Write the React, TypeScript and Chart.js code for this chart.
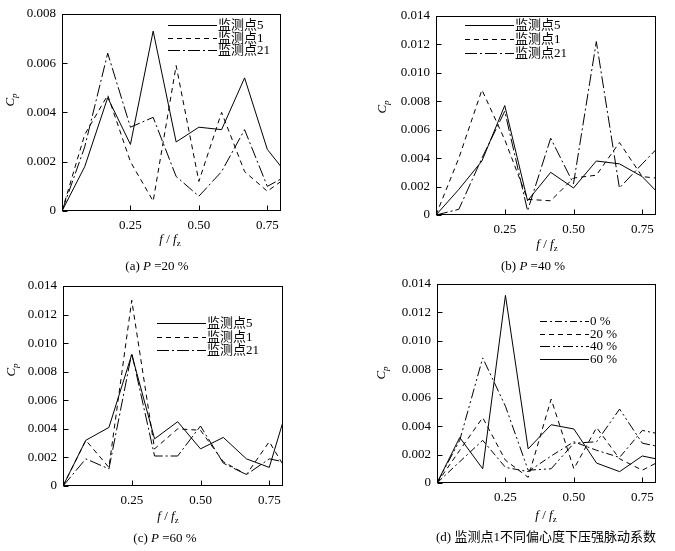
import React, { useEffect, useRef } from "react";
import Chart from "chart.js/auto";

// frequency ratio f / fz of the spectrum points
const fRatio = [0, 0.083, 0.167, 0.25, 0.333, 0.417, 0.5, 0.583, 0.667, 0.75, 0.8];
const xTickValues = [0.25, 0.5, 0.75];
const yTicksA = [0, 0.002, 0.004, 0.006, 0.008];
const yTicksOther = [0, 0.002, 0.004, 0.006, 0.008, 0.01, 0.012, 0.014];

const pointLabels = ["监测点5", "监测点1", "监测点21"];
const eccLabels = ["0 %", "20 %", "40 %", "60 %"];

// (a) P = 20 %
const a5 = [0, 0.0018, 0.0046, 0.0027, 0.0073, 0.0028, 0.0034, 0.0033, 0.0054, 0.0025, 0.0018];
const a1 = [0, 0.0031, 0.0047, 0.002, 0.0004, 0.0059, 0.0012, 0.004, 0.0016, 0.0008, 0.0012];
const a21 = [0, 0.0026, 0.0064, 0.0034, 0.0038, 0.0014, 0.0006, 0.0016, 0.0033, 0.001, 0.0013];

// (b) P = 40 %
const b5 = [0, 0.0018, 0.0038, 0.0077, 0.001, 0.003, 0.0019, 0.0038, 0.0036, 0.0027, 0.0017];
const b1 = [0, 0.004, 0.0088, 0.0053, 0.0011, 0.001, 0.0026, 0.0028, 0.0051, 0.0027, 0.0026];
const b21 = [0, 0.0004, 0.004, 0.0073, 0.0003, 0.0054, 0.0022, 0.0122, 0.0019, 0.0036, 0.0046];

// (c) P = 60 %
const c5 = [0, 0.0032, 0.0041, 0.0092, 0.0033, 0.0045, 0.0026, 0.0034, 0.0019, 0.0013, 0.0045];
const c1 = [0, 0.0032, 0.0013, 0.013, 0.0026, 0.004, 0.0039, 0.0017, 0.0008, 0.0031, 0.0015];
const c21 = [0, 0.0019, 0.0012, 0.0093, 0.0021, 0.0021, 0.0042, 0.0016, 0.0008, 0.0019, 0.0017];

// (d) point 1 at different eccentricities
const d0 = [0, 0.0015, 0.003, 0.0011, 0.0008, 0.0019, 0.0029, 0.0023, 0.0018, 0.0037, 0.0035];
const d20 = [0, 0.0023, 0.0046, 0.0016, 0.0004, 0.0059, 0.001, 0.0039, 0.0017, 0.0009, 0.0014];
const d40 = [0, 0.003, 0.0088, 0.0054, 0.0009, 0.001, 0.0028, 0.0029, 0.0052, 0.0028, 0.0026];
const d60 = [0, 0.0032, 0.001, 0.0132, 0.0024, 0.0041, 0.0038, 0.0014, 0.0008, 0.0019, 0.0017];

const SOLID: number[] = [];
const DASH = [5, 4];
const DASH_DOT = [12, 3, 2, 3];
const DASH_DOT_SHORT = [7, 3, 2, 3];
const DASH_DOT_DOT = [10, 3, 2, 3, 2, 3];

const SERIF = "'Liberation Serif', 'Noto Sans CJK SC', serif";

interface Series {
  label: string;
  data: number[];
  dash: number[];
}

interface PanelProps {
  origin: [number, number];
  plot: [number, number, number, number];
  yMax: number;
  yTicks: number[];
  series: Series[];
  legendAt: [number, number];
  legendRow: number;
}

// box round the plot, inward ticks and a legend inside the plot
const framePlugin = {
  id: "frame",
  afterDraw(chart: any, _args: any, opts: any) {
    const { ctx, chartArea: a, scales } = chart;
    ctx.save();
    ctx.strokeStyle = "#000";
    ctx.lineWidth = 1;
    const l = Math.round(a.left) + 0.5;
    const t = Math.round(a.top) + 0.5;
    const r = Math.round(a.right) - 0.5;
    const b = Math.round(a.bottom) - 0.5;
    ctx.strokeRect(l, t, r - l, b - t);
    ctx.beginPath();
    scales.x.ticks.forEach((tk: any) => {
      const px = Math.round(scales.x.getPixelForValue(tk.value)) + 0.5;
      ctx.moveTo(px, b);
      ctx.lineTo(px, b - 5);
    });
    scales.y.ticks.forEach((tk: any) => {
      const py = Math.round(scales.y.getPixelForValue(tk.value)) + 0.5;
      ctx.moveTo(l, py);
      ctx.lineTo(l + 5, py);
    });
    ctx.stroke();

    ctx.font = `13px ${SERIF}`;
    ctx.fillStyle = "#000";
    ctx.textBaseline = "middle";
    ctx.textAlign = "left";
    chart.data.datasets.forEach((ds: any, i: number) => {
      const y = Math.round(opts.y + i * opts.row) + 0.5;
      ctx.setLineDash(ds.borderDash || []);
      ctx.beginPath();
      ctx.moveTo(opts.x, y);
      ctx.lineTo(opts.x + opts.len, y);
      ctx.stroke();
      ctx.setLineDash([]);
      ctx.fillText(ds.label, opts.x + opts.len + 1, y);
    });
    ctx.restore();
  },
};

const Panel: React.FC<PanelProps> = ({ origin, plot, yMax, yTicks, series, legendAt, legendRow }) => {
  const canvasRef = useRef<HTMLCanvasElement | null>(null);
  const W = plot[2] - origin[0] + 20;
  const H = plot[3] - origin[1] + 32;
  const xAxisH = 22;

  useEffect(() => {
    if (!canvasRef.current) return;
    const chart = new Chart(canvasRef.current, {
      type: "line",
      data: {
        datasets: series.map((s) => ({
          label: s.label,
          data: fRatio.map((x, i) => ({ x, y: s.data[i] })),
          borderColor: "#000",
          borderWidth: 1,
          borderDash: s.dash,
          pointRadius: 0,
          tension: 0,
          fill: false,
        })),
      },
      options: {
        responsive: false,
        animation: false,
        layout: {
          padding: {
            left: 0,
            top: plot[1] - origin[1],
            right: W - (plot[2] - origin[0]),
            bottom: H - (plot[3] - origin[1]) - xAxisH,
          },
        },
        plugins: {
          legend: { display: false },
          tooltip: { enabled: false },
          frame: { x: legendAt[0] - origin[0], y: legendAt[1] - origin[1], row: legendRow, len: 49 },
        } as any,
        scales: {
          x: {
            type: "linear",
            min: 0,
            max: 0.8,
            grid: { display: false, drawTicks: false },
            border: { display: false },
            afterBuildTicks: (s: any) => {
              s.ticks = xTickValues.map((v) => ({ value: v }));
            },
            afterFit: (s: any) => {
              s.height = xAxisH;
            },
            ticks: {
              autoSkip: false,
              maxRotation: 0,
              padding: 7,
              color: "#000",
              font: { family: SERIF, size: 13 },
              callback: (v: any) => Number(v).toFixed(2),
            },
          },
          y: {
            type: "linear",
            min: 0,
            max: yMax,
            grid: { display: false, drawTicks: false },
            border: { display: false },
            afterBuildTicks: (s: any) => {
              s.ticks = yTicks.map((v) => ({ value: v }));
            },
            afterFit: (s: any) => {
              s.width = plot[0] - origin[0];
            },
            ticks: {
              autoSkip: false,
              padding: 6,
              color: "#000",
              font: { family: SERIF, size: 13 },
              callback: (v: any) => (Number(v) === 0 ? "0" : Number(v).toFixed(3)),
            },
          },
        },
      },
      plugins: [framePlugin],
    });
    return () => chart.destroy();
  }, []);

  return (
    <canvas
      ref={canvasRef}
      width={W}
      height={H}
      style={{ position: "absolute", left: origin[0], top: origin[1], width: W, height: H }}
    />
  );
};

const abs = (cx: number, cy: number, extra: React.CSSProperties = {}): React.CSSProperties => ({
  position: "absolute",
  left: cx,
  top: cy,
  transform: "translate(-50%, -50%)",
  whiteSpace: "nowrap",
  fontSize: 13,
  lineHeight: 1,
  ...extra,
});

const CpLabel = ({ cx, cy }: { cx: number; cy: number }) => (
  <div style={abs(cx, cy, { transform: "translate(-50%, -50%) rotate(-90deg)" })}>
    <i>C</i>
    <sub style={{ fontSize: 9, fontStyle: "italic" }}>p</sub>
  </div>
);

const FLabel = ({ cx, cy }: { cx: number; cy: number }) => (
  <div style={abs(cx, cy)}>
    <i>f</i> / <i>f</i>
    <sub style={{ fontSize: 9 }}>z</sub>
  </div>
);

const Caption = ({ cx, cy, children }: { cx: number; cy: number; children: React.ReactNode }) => (
  <div style={abs(cx, cy)}>{children}</div>
);

export default function App() {
  return (
    <div
      style={{
        position: "absolute",
        left: 0,
        top: 0,
        width: 675,
        height: 551,
        background: "#fff",
        fontFamily: SERIF,
        color: "#000",
        overflow: "hidden",
      }}
    >
      <Panel
        origin={[0, 0]}
        plot={[62, 12, 281, 211]}
        yMax={0.008}
        yTicks={yTicksA}
        series={[
          { label: pointLabels[0], data: a5, dash: SOLID },
          { label: pointLabels[1], data: a1, dash: DASH },
          { label: pointLabels[2], data: a21, dash: DASH_DOT },
        ]}
        legendAt={[168, 25]}
        legendRow={12.5}
      />
      <Panel
        origin={[370, 0]}
        plot={[436, 16, 656, 215]}
        yMax={0.014}
        yTicks={yTicksOther}
        series={[
          { label: pointLabels[0], data: b5, dash: SOLID },
          { label: pointLabels[1], data: b1, dash: DASH },
          { label: pointLabels[2], data: b21, dash: DASH_DOT },
        ]}
        legendAt={[465, 25]}
        legendRow={14}
      />
      <Panel
        origin={[0, 270]}
        plot={[63, 286, 283, 486]}
        yMax={0.014}
        yTicks={yTicksOther}
        series={[
          { label: pointLabels[0], data: c5, dash: SOLID },
          { label: pointLabels[1], data: c1, dash: DASH },
          { label: pointLabels[2], data: c21, dash: DASH_DOT },
        ]}
        legendAt={[157, 323]}
        legendRow={13.5}
      />
      <Panel
        origin={[370, 270]}
        plot={[437, 284, 656, 483]}
        yMax={0.014}
        yTicks={yTicksOther}
        series={[
          { label: eccLabels[0], data: d0, dash: DASH_DOT_SHORT },
          { label: eccLabels[1], data: d20, dash: DASH },
          { label: eccLabels[2], data: d40, dash: DASH_DOT_DOT },
          { label: eccLabels[3], data: d60, dash: SOLID },
        ]}
        legendAt={[540, 321]}
        legendRow={12.5}
      />

      <CpLabel cx={11} cy={100} />
      <CpLabel cx={383} cy={107} />
      <CpLabel cx={12} cy={370} />
      <CpLabel cx={382} cy={373} />

      <FLabel cx={170} cy={240} />
      <FLabel cx={547} cy={245} />
      <FLabel cx={168} cy={517} />
      <FLabel cx={546} cy={516} />

      <Caption cx={157} cy={265}>
        (a) <i>P</i> =20 %
      </Caption>
      <Caption cx={533} cy={265}>
        (b) <i>P</i> =40 %
      </Caption>
      <Caption cx={165} cy={537}>
        (c) <i>P</i> =60 %
      </Caption>
      <Caption cx={546} cy={536}>
        (d) 监测点1不同偏心度下压强脉动系数
      </Caption>
    </div>
  );
}
